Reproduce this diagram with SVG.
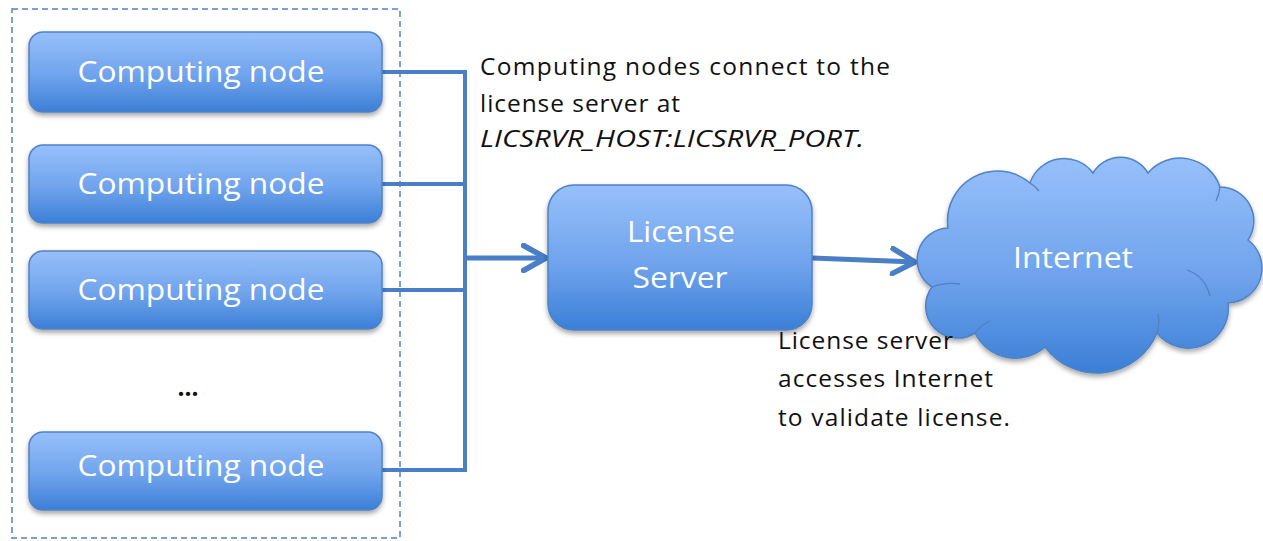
<svg xmlns="http://www.w3.org/2000/svg" width="1263" height="541" viewBox="0 0 1263 541">
  <defs>
    <linearGradient id="blueFill" x1="0" y1="0" x2="0" y2="1">
      <stop offset="0" stop-color="#97c0fa"/>
      <stop offset="0.55" stop-color="#6fa3ec"/>
      <stop offset="1" stop-color="#3b7fd6"/>
    </linearGradient>
    <filter id="shadow" x="-10%" y="-10%" width="120%" height="130%">
      <feDropShadow dx="0" dy="3" stdDeviation="2.5" flood-color="#000" flood-opacity="0.35"/>
    </filter>
    <marker id="chevron" viewBox="0 0 12 12" refX="10" refY="6" markerWidth="6" markerHeight="6" markerUnits="strokeWidth" orient="auto">
      <path d="M1,1 L10,6 L1,11" fill="none" stroke="#4a7ec6" stroke-width="2.2" stroke-linecap="round" stroke-linejoin="round"/>
    </marker>
    <style>
      .box { fill: url(#blueFill); stroke: #4f82c6; stroke-width: 1.5; filter: url(#shadow); }
      .fold { fill: none; stroke: #4f82c6; stroke-width: 1.3; }
      .label { font-family: "Open Sans", "Liberation Sans", Arial, sans-serif; fill: #ffffff; font-size: 30px; }
      .note { font-family: "Open Sans", "Liberation Sans", Arial, sans-serif; fill: #111111; font-size: 24.5px; }
      .wire { fill: none; stroke: #4a7ec6; stroke-width: 4; }
      .arrow { fill: none; stroke: #4a7ec6; stroke-width: 5; marker-end: url(#chevron); }
    </style>
  </defs>

  <rect width="1263" height="541" fill="#ffffff"/>

  <!-- cluster boundary -->
  <rect id="cluster" x="12" y="9" width="388" height="529" fill="none" stroke="#4f82c6" stroke-width="1.5" stroke-dasharray="6,4"/>

  <!-- connectors -->
  <g id="connectors">
    <polyline class="wire" points="382,72 465,72 465,470 382,470"/>
    <line class="wire" x1="382" y1="184" x2="465" y2="184"/>
    <line class="wire" x1="382" y1="290" x2="465" y2="290"/>
    <line class="arrow" x1="463" y1="258" x2="546" y2="258"/>
    <line class="arrow" x1="812" y1="258" x2="915" y2="262"/>
  </g>

  <g id="node1">
    <rect class="box" x="29" y="32" width="353" height="80" rx="14"/>
    <text class="label" x="201" y="82" text-anchor="middle" textLength="247" lengthAdjust="spacingAndGlyphs">Computing node</text>
  </g>
  <g id="node2">
    <rect class="box" x="29" y="145" width="353" height="78" rx="14"/>
    <text class="label" x="201" y="194" text-anchor="middle" textLength="247" lengthAdjust="spacingAndGlyphs">Computing node</text>
  </g>
  <g id="node3">
    <rect class="box" x="29" y="251" width="353" height="78" rx="14"/>
    <text class="label" x="201" y="300" text-anchor="middle" textLength="247" lengthAdjust="spacingAndGlyphs">Computing node</text>
  </g>
  <g id="ellipsis">
    <text class="note" x="188" y="396" text-anchor="middle" font-weight="bold">...</text>
  </g>
  <g id="node4">
    <rect class="box" x="29" y="432" width="353" height="78" rx="14"/>
    <text class="label" x="201" y="476" text-anchor="middle" textLength="247" lengthAdjust="spacingAndGlyphs">Computing node</text>
  </g>

  <g id="license-server">
    <rect class="box" x="548" y="185" width="264" height="145" rx="26"/>
    <text class="label" x="681" y="242" text-anchor="middle" textLength="108" lengthAdjust="spacingAndGlyphs">License</text>
    <text class="label" x="680" y="288" text-anchor="middle" textLength="95" lengthAdjust="spacingAndGlyphs">Server</text>
  </g>

  <g id="internet">
    <path class="box" d="M948,228 A50,50 0 0 1 1030,183 A36,36 0 0 1 1093,173 A32,32 0 0 1 1148,173 A42,42 0 0 1 1220,187 A34,34 0 0 1 1248,240 A35,35 0 0 1 1228,303 A40,40 0 0 1 1157,333 A65,65 0 0 1 1045,347 A45,45 0 0 1 975,333 A32,32 0 0 1 932,287 A32,32 0 0 1 948,228 Z"/>
    <!-- inner folds where the lobes overlap -->
    <path class="fold" d="M1030,183 Q1035,186 1039,191"/>
    <path class="fold" d="M1220,187 Q1219,195 1216,201"/>
    <path class="fold" d="M1187,270 Q1205,276 1210,296"/>
    <path class="fold" d="M1157,333 Q1160,322 1158,314"/>
    <path class="fold" d="M975,333 Q981,325 990,321"/>
    <path class="fold" d="M932,287 Q945,282 960,284"/>
    <text class="label" x="1073" y="268" text-anchor="middle" textLength="120" lengthAdjust="spacingAndGlyphs">Internet</text>
  </g>

  <g id="notes">
    <text class="note" x="480" y="75" textLength="410" lengthAdjust="spacing">Computing nodes connect to the</text>
    <text class="note" x="480" y="112" textLength="200" lengthAdjust="spacing">license server at</text>
    <text class="note" x="480" y="147" font-style="italic" textLength="384" lengthAdjust="spacingAndGlyphs">LICSRVR_HOST:LICSRVR_PORT.</text>
    <text class="note" x="778" y="349" textLength="175" lengthAdjust="spacing">License server</text>
    <text class="note" x="778" y="387" textLength="215" lengthAdjust="spacing">accesses Internet</text>
    <text class="note" x="778" y="426" textLength="232" lengthAdjust="spacing">to validate license.</text>
  </g>
</svg>
